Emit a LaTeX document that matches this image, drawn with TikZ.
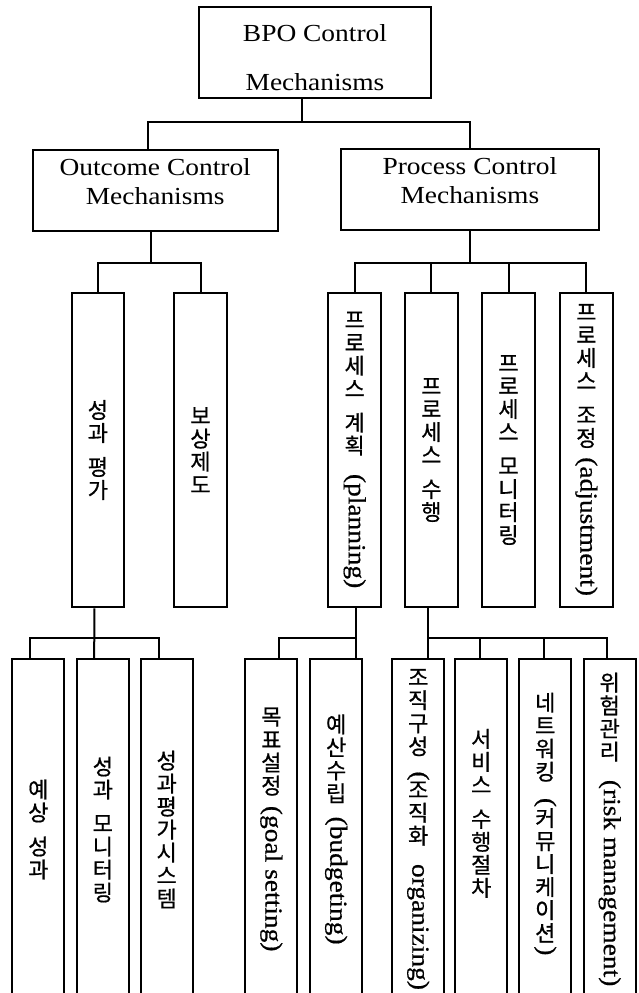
\documentclass[tikz,border=0pt]{standalone}
\usepackage{fontspec}
\usepackage{graphicx}
\setmainfont{Liberation Serif}[FakeStretch=1.12]
\newfontfamily\latv{Liberation Serif}[FakeStretch=1.12, FakeBold=0.6]
\newfontfamily\krfont{Noto Sans CJK KR}[FakeBold=0.7]
\usetikzlibrary{calc}
\newcommand\Rot[1]{\rotatebox{-90}{\latv\fontsize{24.5}{26}\selectfont #1}}
\newcommand\vgap{\\[11pt]}
\tikzset{
  box/.style={draw, line width=2pt, inner sep=0pt, align=center},
  hdr/.style={box, font=\fontsize{24.5}{29}\selectfont},
  midbox/.style={box, font=\krfont\fontsize{22}{23}\selectfont, minimum width=52.5pt, minimum height=314.6pt},
  lowbox/.style={box, font=\krfont\fontsize{22}{23}\selectfont, minimum width=52.2pt, minimum height=341pt},
  conn/.style={line width=2pt},
}
\begin{document}
\begin{tikzpicture}[x=1pt,y=-1pt]
\useasboundingbox (0,0) rectangle (639,993);
\clip (0,0) rectangle (639,993);
% level 0
\node[hdr, minimum width=231.4pt, minimum height=91.6pt, font=\fontsize{24.5}{49}\selectfont] (bpo) at (315,52.5) {\rule{0pt}{27pt}BPO Control\\Mechanisms};
% level 1
\node[hdr, minimum width=245pt, minimum height=81.7pt] (out) at (155.2,190.5) {Outcome Control\\Mechanisms\rule[-18pt]{0pt}{0pt}};
\node[hdr, minimum width=258.3pt, minimum height=81.5pt] (proc) at (469.85,189.6) {Process Control\\Mechanisms\rule[-18pt]{0pt}{0pt}};
% level 2
\node[midbox] (sp) at (97.85,450) {성\\과\vgap 평\\가};
\node[midbox] (bs) at (200.5,450) {보\\상\\제\\도};
\node[midbox] (p1) at (354.65,450) {프\\로\\세\\스\vgap 계\\획\\[-3pt]\Rot{(planning)}};
\node[midbox] (p2) at (431.35,450) {프\\로\\세\\스\vgap 수\\행};
\node[midbox] (p3) at (508.5,450) {프\\로\\세\\스\vgap 모\\니\\터\\링};
\node[midbox] (p4) at (586.35,450) {프\\로\\세\\스\vgap 조\\정\\[-12pt]\Rot{(adjustment)}};
% level 3
\node[lowbox] (b1) at (38.35,829.5) {예\\상\vgap 성\\과};
\node[lowbox] (b2) at (102.85,829.5) {성\\과\vgap 모\\니\\터\\링};
\node[lowbox] (b3) at (166.7,829.5) {성\\과\\평\\가\\시\\스\\템};
\node[lowbox] (b4) at (271.35,829.5) {목\\표\\설\\정\\[-11pt]\Rot{(goal setting)}};
\node[lowbox] (b5) at (336.15,829.5) {예\\산\\수\\립\\[-8pt]\Rot{(budgeting)}};
\node[lowbox] (b6) at (418.25,829.5) {조\\직\\구\\성\\[-6pt]\Rot{(}\\조\\직\\화\\[-3pt]\Rot{organizing)}};
\node[lowbox] (b7) at (481.25,829.5) {서\\비\\스\vgap 수\\행\\절\\차\rule[-34pt]{0pt}{0pt}};
\node[lowbox] (b8) at (545.25,829.5) {네\\트\\워\\킹\\[-5pt]\Rot{(}\\커\\뮤\\니\\케\\이\\션\\[-18pt]\Rot{)}\rule[-20pt]{0pt}{0pt}};
\node[lowbox] (b9) at (609.75,829.5) {위\\험\\관\\리\\[-3pt]\Rot{(risk management)}};
% connectors level 0 -> 1
\coordinate (j0) at (302.3,121.7);
\coordinate (dOut) at ($(out.north west)!0.472!(out.north east)$);
\draw[conn] (bpo.south -| j0) -- (j0);
\draw[conn] (dOut) |- (j0) -| (proc.north);
% level 1 -> 2
\coordinate (j1) at (150.7,263.3);
\draw[conn] (out.south -| j1) -- (j1);
\draw[conn] (sp.north) |- (j1) -| (bs.north);
\coordinate (j2) at (469.85,263.3);
\draw[conn] (proc.south) -- (j2);
\draw[conn] (p1.north) |- (j2) -| (p4.north);
\draw[conn] (p2.north) -- (p2.north |- j2);
\draw[conn] (p3.north) -- (p3.north |- j2);
% level 2 -> 3 (outcome)
\coordinate (d1) at ($(b1.north west)!0.337!(b1.north east)$);
\coordinate (d2) at ($(b2.north west)!0.337!(b2.north east)$);
\coordinate (d3) at ($(b3.north west)!0.35!(b3.north east)$);
\coordinate (j3) at (94.3,638);
\draw[conn] (sp.south -| j3) -- (j3) -- (d2);
\draw[conn] (d1) |- (j3) -| (d3);
% planning
\coordinate (d4) at ($(b4.north west)!0.65!(b4.north east)$);
\coordinate (d5) at ($(b5.north west)!0.87!(b5.north east)$);
\coordinate (j4) at (d5 |- j3);
\draw[conn] (p1.south -| d5) -- (d5);
\draw[conn] (d4) |- (j4);
% execution
\coordinate (d6) at ($(b6.north west)!0.68!(b6.north east)$);
\coordinate (d7) at ($(b7.north west)!0.48!(b7.north east)$);
\coordinate (d8) at ($(b8.north west)!0.48!(b8.north east)$);
\coordinate (d9) at ($(b9.north west)!0.45!(b9.north east)$);
\coordinate (j5) at (d6 |- j3);
\draw[conn] (p2.south -| d6) -- (d6);
\draw[conn] (j5) -| (d9);
\draw[conn] (d7) -- (d7 |- j5);
\draw[conn] (d8) -- (d8 |- j5);
\end{tikzpicture}
\end{document}
